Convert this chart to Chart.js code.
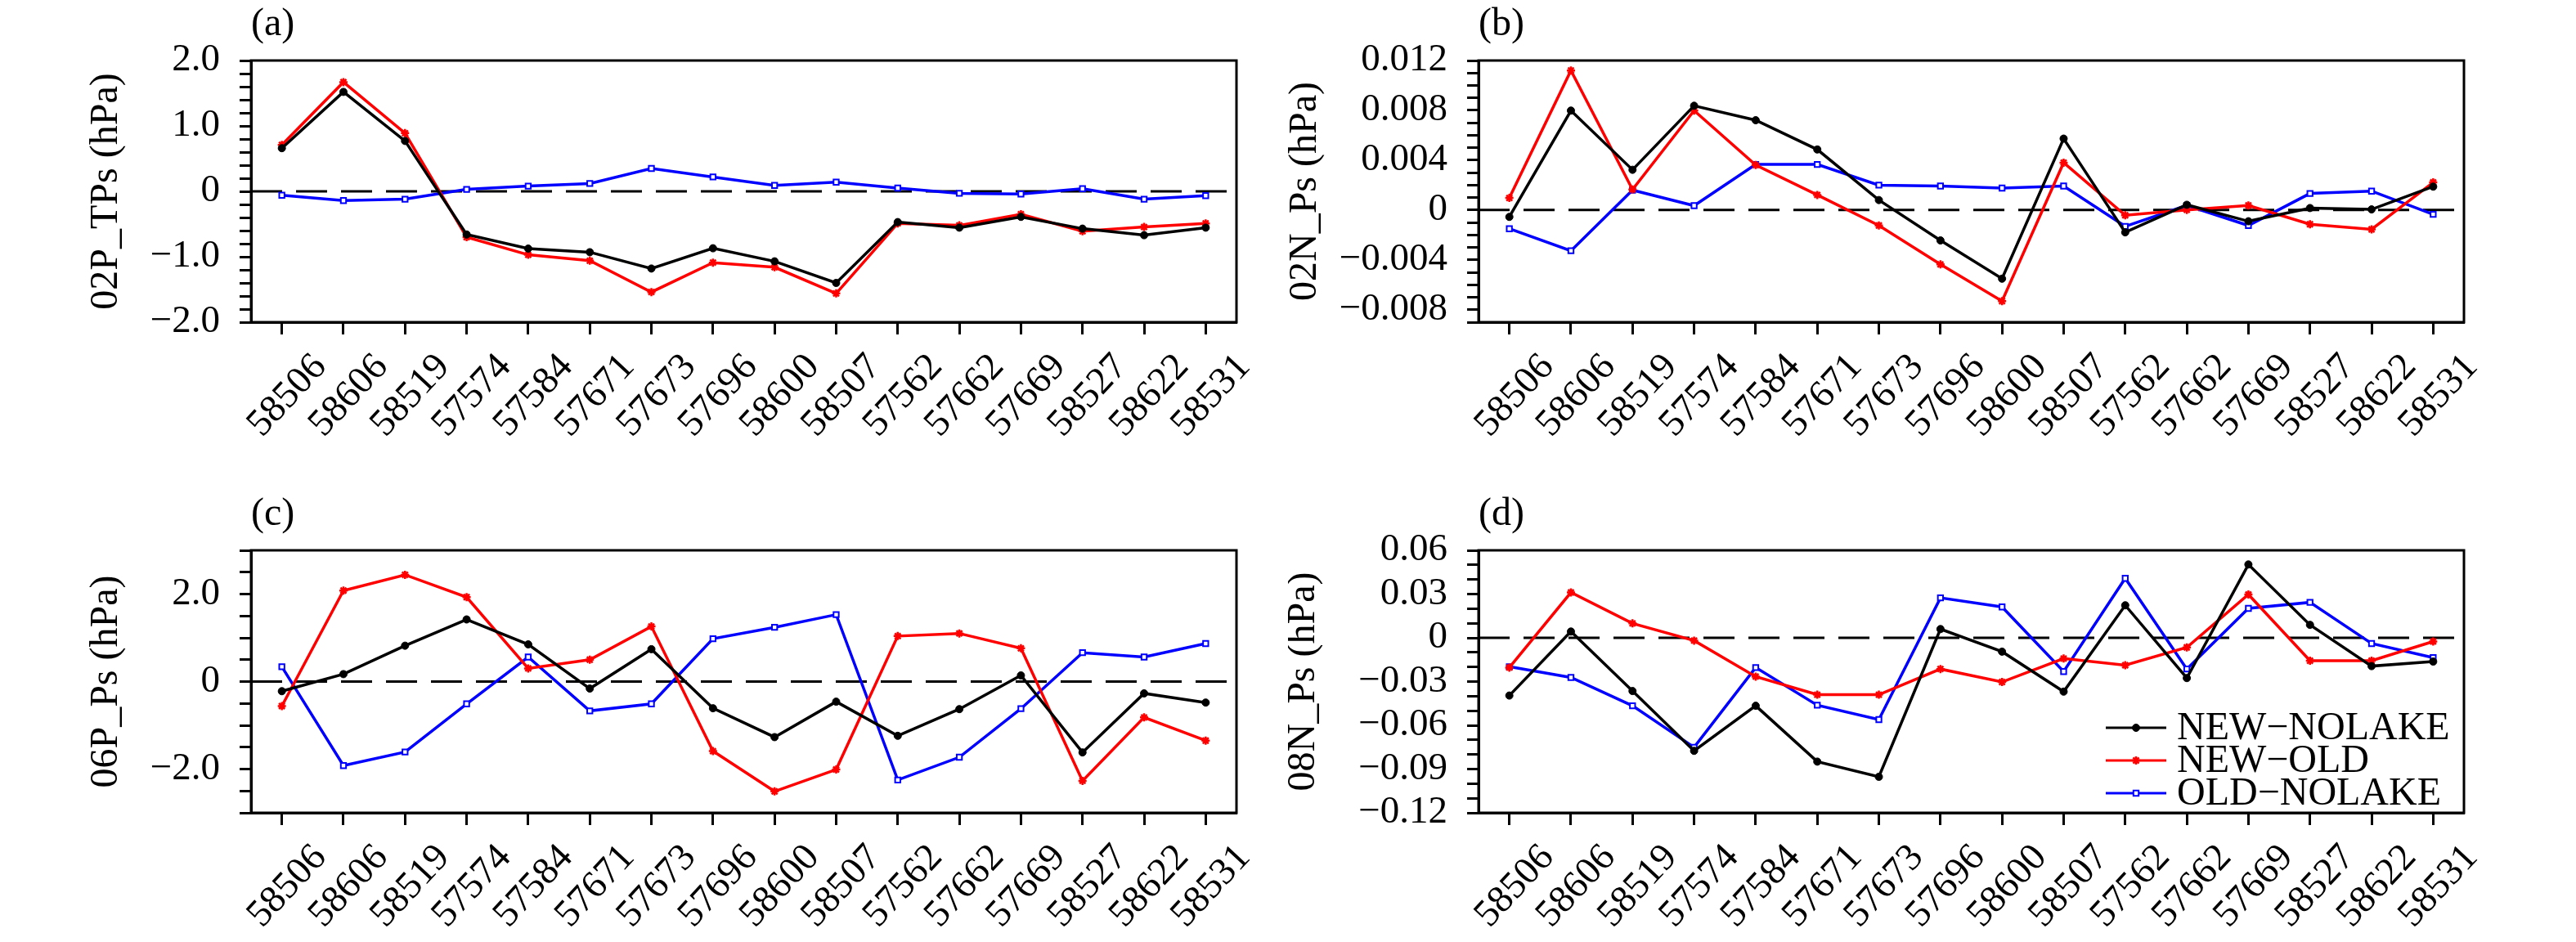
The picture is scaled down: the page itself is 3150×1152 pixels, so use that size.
<!DOCTYPE html>
<html><head><meta charset="utf-8">
<script src="https://cdn.jsdelivr.net/npm/chart.js@4.4.1/dist/chart.umd.min.js"></script>
<style>
html,body{margin:0;padding:0;background:#fff;}
#wrap{position:relative;width:3150px;height:1152px;background:#fff;overflow:hidden}
canvas{position:absolute}
</style></head><body><div id="wrap">
<canvas id="ca" width="1575" height="576" style="left:0;top:0;width:1575px;height:576px"></canvas>
<canvas id="cb" width="1575" height="576" style="left:1575px;top:0;width:1575px;height:576px"></canvas>
<canvas id="cc" width="1575" height="576" style="left:0;top:576px;width:1575px;height:576px"></canvas>
<canvas id="cd" width="1575" height="576" style="left:1575px;top:576px;width:1575px;height:576px"></canvas>
</div>
<script>
// ---------- data ----------
const stations = ['58506','58606','58519','57574','57584','57671','57673','57696','58600','58507','57562','57662','57669','58527','58622','58531'];
const seriesNames = ['NEW\u2212NOLAKE','NEW\u2212OLD','OLD\u2212NOLAKE'];

// (a) 02P_TPs
const aNewNolake = [0.66, 1.52, 0.77, -0.66, -0.875, -0.93, -1.18, -0.87, -1.07, -1.40, -0.47, -0.555, -0.39, -0.57, -0.67, -0.555];
const aNewOld    = [0.71, 1.67, 0.89, -0.70, -0.97, -1.06, -1.54, -1.09, -1.16, -1.56, -0.49, -0.52, -0.35, -0.61, -0.545, -0.49];
const aOldNolake = [-0.06, -0.14, -0.12, 0.03, 0.08, 0.12, 0.35, 0.22, 0.09, 0.14, 0.05, -0.03, -0.04, 0.04, -0.12, -0.065];

// (b) 02N_Ps
const bNewNolake = [-0.00055, 0.00798, 0.00323, 0.00837, 0.00721, 0.00486, 0.00080, -0.00244, -0.00551, 0.00573, -0.00179, 0.00042, -0.00090, 0.00016, 0.00005, 0.00188];
const bNewOld    = [0.00097, 0.01120, 0.00165, 0.00798, 0.00361, 0.00121, -0.00124, -0.00436, -0.00731, 0.00380, -0.00042, 0.00001, 0.00037, -0.00114, -0.00155, 0.00222];
const bOldNolake = [-0.00150, -0.00327, 0.00160, 0.00035, 0.00366, 0.00366, 0.00200, 0.00193, 0.00176, 0.00193, -0.00131, 0.00037, -0.00124, 0.00133, 0.00152, -0.00035];

// (c) 06P_Ps
const cNewNolake = [-0.22, 0.17, 0.82, 1.42, 0.85, -0.16, 0.74, -0.61, -1.27, -0.46, -1.24, -0.63, 0.14, -1.62, -0.27, -0.48];
const cNewOld    = [-0.56, 2.08, 2.44, 1.93, 0.30, 0.50, 1.26, -1.59, -2.51, -2.01, 1.04, 1.10, 0.76, -2.27, -0.82, -1.35];
const cOldNolake = [0.34, -1.92, -1.61, -0.51, 0.56, -0.67, -0.51, 0.98, 1.24, 1.53, -2.25, -1.73, -0.62, 0.66, 0.56, 0.87];

// (d) 08N_Ps
const dNewNolake = [-0.0396, 0.0043, -0.0365, -0.0775, -0.0466, -0.0849, -0.0953, 0.0060, -0.0095, -0.0369, 0.0223, -0.0276, 0.0503, 0.0089, -0.0194, -0.0163];
const dNewOld    = [-0.0204, 0.0311, 0.0099, -0.0019, -0.0266, -0.0390, -0.0390, -0.0214, -0.0303, -0.0142, -0.0188, -0.0066, 0.0297, -0.0157, -0.0157, -0.0025];
const dOldNolake = [-0.0198, -0.0272, -0.0466, -0.0751, -0.0204, -0.0462, -0.0561, 0.0274, 0.0212, -0.0231, 0.0408, -0.0214, 0.0202, 0.0243, -0.0039, -0.0136];

// axis tick labels (labelled values) per panel
const yLabelsA = [-2.0, -1.0, 0, 1.0, 2.0];
const yLabelsB = [-0.008, -0.004, 0, 0.004, 0.008, 0.012];
const yLabelsC = [-2.0, 0, 2.0];
const yLabelsD = [-0.12, -0.09, -0.06, -0.03, 0, 0.03, 0.06];

// ---------- drawing ----------
const FONT = '"Liberation Serif", "Times New Roman", Times, serif';
const W = 1575, H = 576;
const COLORS = ['#000000', '#ff0000', '#0000ff'];

function fmtMinus(s) { return s.replace('-', '\u2212'); }

function makePanel(id, o) {
  const minorTicks = [];
  const n = Math.round((o.yMax - o.yMin) / o.minorStep);
  for (let i = 0; i <= n; i++) minorTicks.push(+(o.yMin + i * o.minorStep).toFixed(6));

  const datasets = o.series.map((vals, k) => {
    const base = {
      label: seriesNames[k], data: vals, borderColor: COLORS[k], borderWidth: 3.5,
      tension: 0, fill: false, order: k
    };
    if (k === 0) Object.assign(base, {pointStyle: 'circle', pointRadius: 4.5, pointBackgroundColor: '#000', pointBorderColor: '#000', pointBorderWidth: 1});
    if (k === 1) Object.assign(base, {pointStyle: 'star', pointRadius: 5, pointBackgroundColor: '#ff0000', pointBorderColor: '#ff0000', pointBorderWidth: 2.5});
    if (k === 2) Object.assign(base, {pointStyle: 'rect', pointRadius: 4.5, pointBackgroundColor: '#ffffff', pointBorderColor: '#0000ff', pointBorderWidth: 2});
    return base;
  });

  const area = o.area;
  const plugins = [{
    id: 'zeroline',
    beforeDatasetsDraw(chart) {
      const {ctx, chartArea: ca, scales} = chart;
      const y = scales.y.getPixelForValue(0);
      ctx.save();
      ctx.strokeStyle = '#000'; ctx.lineWidth = 3; ctx.setLineDash([38, 17]);
      ctx.beginPath(); ctx.moveTo(ca.left, y); ctx.lineTo(ca.right, y); ctx.stroke();
      ctx.restore();
    }
  }, {
    id: 'frame',
    afterDraw(chart) {
      const {ctx, chartArea: ca} = chart;
      ctx.save();
      ctx.strokeStyle = '#000'; ctx.lineWidth = 3;
      ctx.strokeRect(ca.left, ca.top, ca.right - ca.left, ca.bottom - ca.top);
      ctx.fillStyle = '#000';
      ctx.font = '48px ' + FONT;
      ctx.textAlign = 'left'; ctx.textBaseline = 'alphabetic';
      ctx.fillText(o.tag, ca.left, ca.top - 31);
      ctx.restore();
    }
  }];
  if (o.legend) {
    plugins.push({
      id: 'innerLegend',
      afterDraw(chart) {
        const {ctx} = chart;
        ctx.save();
        chart.data.datasets.forEach((ds, k) => {
          const y = o.legend.y + k * o.legend.dy;
          ctx.strokeStyle = ds.borderColor; ctx.lineWidth = 3; ctx.setLineDash([]);
          ctx.beginPath(); ctx.moveTo(o.legend.x, y); ctx.lineTo(o.legend.x + 74, y); ctx.stroke();
          ctx.fillStyle = ds.pointBackgroundColor; ctx.strokeStyle = ds.pointBorderColor;
          ctx.lineWidth = ds.pointBorderWidth;
          Chart.helpers.drawPoint(ctx, {pointStyle: ds.pointStyle, radius: ds.pointRadius, rotation: 0, borderWidth: ds.pointBorderWidth}, o.legend.x + 37, y);
          ctx.fillStyle = '#000';
          ctx.font = '48px ' + FONT;
          ctx.textAlign = 'left'; ctx.textBaseline = 'alphabetic';
          ctx.fillText(ds.label, o.legend.x + 87, y + 14);
        });
        ctx.restore();
      }
    });
  }

  new Chart(document.getElementById(id), {
    type: 'line',
    data: {labels: stations, datasets},
    plugins,
    options: {
      responsive: false, animation: false, devicePixelRatio: 1,
      layout: {padding: {left: 0, top: area.top, right: W - area.right, bottom: 0}},
      plugins: {legend: {display: false}, tooltip: {enabled: false}, title: {display: false}},
      scales: {
        x: {
          type: 'category', offset: true,
          afterFit(s) { s.height = H - area.bottom; },
          grid: {display: true, drawOnChartArea: false, drawTicks: true, tickLength: 15, tickWidth: 3, tickColor: '#000', offset: false},
          border: {display: true, color: '#000', width: 3},
          ticks: {autoSkip: false, minRotation: 47, maxRotation: 47, labelOffset: 47, padding: 13, color: '#000', font: {family: FONT, size: 47}}
        },
        y: {
          type: 'linear', min: o.yMin, max: o.yMax,
          afterFit(s) { s.width = area.left; },
          afterBuildTicks(s) { s.ticks = minorTicks.map(v => ({value: v})); },
          grid: {display: true, drawOnChartArea: false, drawTicks: true, tickLength: 14, tickWidth: 3, tickColor: '#000'},
          border: {display: true, color: '#000', width: 3},
          ticks: {
            autoSkip: false, padding: 24, color: '#000', font: {family: FONT, size: 47},
            callback(v) {
              const hit = o.labels.find(m => Math.abs(m - v) < o.minorStep / 100);
              if (hit === undefined) return '';
              return hit === 0 ? '0' : fmtMinus(hit.toFixed(o.digits));
            }
          },
          title: {display: true, text: o.yTitle, color: '#000', font: {family: FONT, size: 48}, padding: {top: o.titlePad, bottom: 0}}
        }
      }
    }
  });
}

makePanel('ca', {tag: '(a)', yTitle: '02P_TPs (hPa)', series: [aNewNolake, aNewOld, aOldNolake],
  yMin: -2, yMax: 2, minorStep: 0.2, labels: yLabelsA, digits: 1,
  area: {left: 307, right: 1512, top: 74, bottom: 394}, titlePad: 102});
makePanel('cb', {tag: '(b)', yTitle: '02N_Ps (hPa)', series: [bNewNolake, bNewOld, bOldNolake],
  yMin: -0.009, yMax: 0.012, minorStep: 0.001, labels: yLabelsB, digits: 3,
  area: {left: 233, right: 1438, top: 74, bottom: 394}, titlePad: -7});
makePanel('cc', {tag: '(c)', yTitle: '06P_Ps (hPa)', series: [cNewNolake, cNewOld, cOldNolake],
  yMin: -3, yMax: 3, minorStep: 0.5, labels: yLabelsC, digits: 1,
  area: {left: 307, right: 1512, top: 97, bottom: 418}, titlePad: 102});
makePanel('cd', {tag: '(d)', yTitle: '08N_Ps (hPa)', series: [dNewNolake, dNewOld, dOldNolake],
  yMin: -0.12, yMax: 0.06, minorStep: 0.01, labels: yLabelsD, digits: 2,
  area: {left: 233, right: 1438, top: 97, bottom: 418}, titlePad: -9,
  legend: {x: 1000, y: 314, dy: 40}});
</script>
</body></html>
